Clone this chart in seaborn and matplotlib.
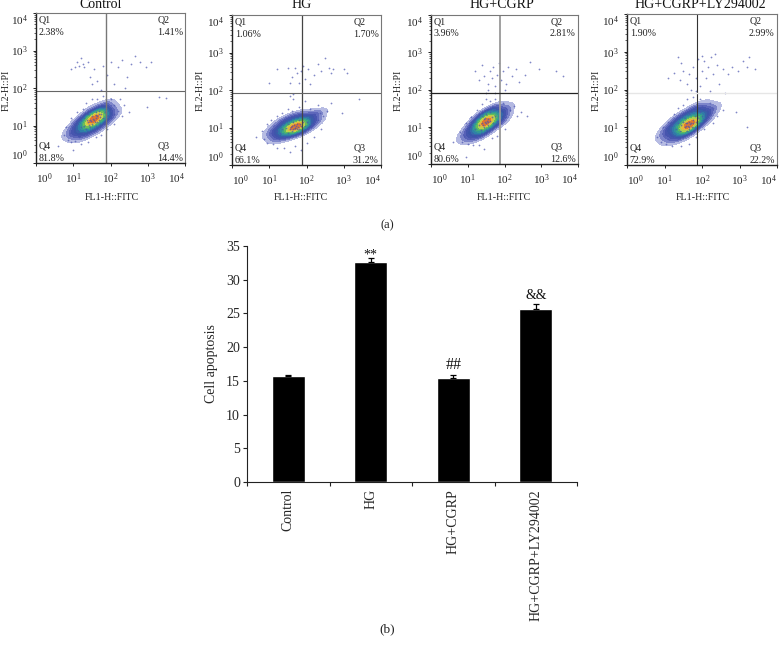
import matplotlib
matplotlib.use("Agg")
import matplotlib.pyplot as plt
import numpy as np
import pandas as pd
import seaborn as sns
from matplotlib.colors import LinearSegmentedColormap

W, H = 779, 648

# flow panels, values in decades (log10)
panel_names = ["Control", "HG", "HG+CGRP", "HG+CGRP+LY294002"]
q_labels = ["Q1", "Q2", "Q3", "Q4"]
control_pct = ["2.38%", "1.41%", "14.4%", "81.8%"]
hg_pct = ["1.06%", "1.70%", "31.2%", "66.1%"]
cgrp_pct = ["3.96%", "2.81%", "12.6%", "80.6%"]
ly_pct = ["1.90%", "2.99%", "22.2%", "72.9%"]
gates_fitc = [75, 75, 75, 75]
gates_pi = [83, 83, 83, 83]

control_core = [
    (0.9, 0.8), (1.0, 0.75), (1.0, 0.95), (1.1, 0.85), (1.1, 1.05), (1.15, 0.7), (1.2, 0.95), (1.2, 1.15),
    (1.25, 0.8), (1.3, 1.0), (1.3, 1.2), (1.35, 0.75), (1.35, 0.9), (1.4, 1.1), (1.4, 1.3), (1.45, 0.95),
    (1.45, 1.15), (1.5, 1.05), (1.5, 1.25), (1.5, 1.45), (1.55, 0.85), (1.55, 1.15), (1.6, 1.0), (1.6, 1.2),
    (1.6, 1.35), (1.65, 1.1), (1.65, 1.25), (1.7, 1.15), (1.7, 1.4), (1.7, 0.95), (1.75, 1.3), (1.8, 1.2),
    (1.8, 1.5), (1.85, 1.05), (1.85, 1.35), (1.9, 1.25), (1.9, 1.55), (2.0, 1.2), (2.0, 1.4), (2.1, 1.3),
    (1.48, 1.12), (1.52, 1.18), (1.58, 1.1), (1.62, 1.28), (1.42, 1.02), (1.38, 1.16), (1.68, 1.32), (1.72, 1.22),
]
control_sparse = [
    (0.75, 0.75), (0.85, 0.62), (0.8, 0.95), (0.95, 0.55), (0.95, 1.2), (1.05, 0.6), (1.1, 1.35), (1.2, 0.5),
    (1.25, 1.45), (1.35, 1.6), (1.4, 0.55), (1.5, 1.7), (1.6, 0.7), (1.65, 1.7), (1.75, 0.75), (1.8, 1.8),
    (1.9, 0.9), (2.0, 1.7), (2.1, 1.05), (2.1, 1.55), (2.2, 1.4), (2.3, 1.25), (2.35, 1.55), (2.5, 1.35),
    (2.25, 1.7), (0.6, 0.45), (1.0, 0.35), (2.97, 1.5), (3.29, 1.76), (3.5, 1.74), (1.05, 2.55), (1.1, 2.7),
    (1.15, 2.6), (1.2, 2.8), (1.25, 2.65), (1.3, 2.55), (1.4, 2.7), (1.45, 2.3), (1.5, 2.1), (1.55, 2.5),
    (1.65, 2.2), (1.75, 1.95), (1.8, 2.6), (1.9, 2.35), (2.0, 2.7), (2.1, 2.1), (2.2, 2.55), (2.3, 2.75),
    (2.45, 2.3), (2.55, 2.65), (2.65, 2.85), (2.8, 2.7), (2.95, 2.55), (3.1, 2.7), (0.95, 2.5), (2.4, 2.0),
]
hg_core = [
    (1.05, 0.85), (1.15, 0.75), (1.15, 1.0), (1.2, 0.9), (1.25, 0.7), (1.3, 0.85), (1.3, 1.1), (1.35, 0.95),
    (1.4, 0.75), (1.4, 1.2), (1.45, 1.0), (1.5, 0.85), (1.5, 1.1), (1.55, 0.95), (1.55, 1.25), (1.6, 0.8),
    (1.6, 1.05), (1.65, 0.95), (1.65, 1.15), (1.7, 1.0), (1.7, 1.3), (1.75, 0.85), (1.75, 1.1), (1.8, 0.95),
    (1.8, 1.2), (1.85, 1.05), (1.85, 1.35), (1.9, 0.9), (1.9, 1.15), (1.95, 1.05), (1.95, 1.3), (2.0, 1.15),
    (2.05, 1.0), (2.1, 1.25), (2.15, 1.1), (2.2, 1.35), (2.3, 1.2), (2.35, 1.4), (1.72, 1.05), (1.68, 0.98),
    (1.78, 1.02), (1.62, 0.92), (1.82, 1.1), (1.58, 1.02), (1.74, 0.95), (1.66, 1.08),
]
hg_sparse = [
    (0.8, 0.9), (0.85, 0.7), (0.95, 0.6), (0.95, 1.1), (1.05, 1.2), (1.1, 0.55), (1.2, 0.45), (1.2, 1.3),
    (1.35, 1.4), (1.4, 0.45), (1.5, 1.5), (1.55, 0.35), (1.6, 1.45), (1.65, 1.75), (1.7, 0.5), (1.8, 1.55),
    (1.85, 0.4), (1.95, 1.7), (2.0, 0.6), (2.1, 1.5), (2.2, 0.75), (2.3, 1.6), (2.45, 1.3), (2.55, 1.45),
    (2.66, 1.65), (2.4, 0.95), (0.65, 0.75), (1.0, 2.2), (1.2, 2.55), (1.5, 2.6), (1.55, 2.2), (1.6, 2.35),
    (1.7, 2.6), (1.75, 2.45), (1.8, 2.2), (1.85, 2.5), (1.9, 2.65), (1.95, 2.3), (2.05, 2.55), (2.1, 2.15),
    (2.2, 2.4), (2.3, 2.7), (2.4, 2.5), (2.5, 2.85), (2.6, 2.6), (2.65, 2.45), (2.7, 2.55), (3.0, 2.55),
    (3.1, 2.45), (3.4, 1.75), (2.95, 1.4), (1.55, 1.85), (1.65, 1.9),
]
cgrp_core = [
    (0.9, 0.75), (1.0, 0.9), (1.05, 0.7), (1.1, 1.0), (1.15, 0.8), (1.2, 1.15), (1.2, 0.95), (1.25, 0.75),
    (1.3, 1.05), (1.3, 1.25), (1.35, 0.9), (1.4, 1.1), (1.4, 1.3), (1.4, 0.8), (1.45, 1.0), (1.45, 1.2),
    (1.5, 1.1), (1.5, 1.35), (1.5, 0.9), (1.55, 1.2), (1.55, 1.05), (1.6, 1.15), (1.6, 1.4), (1.6, 0.95),
    (1.65, 1.25), (1.7, 1.1), (1.7, 1.45), (1.75, 1.3), (1.8, 1.15), (1.8, 1.5), (1.85, 1.3), (1.9, 1.1),
    (1.95, 1.35), (2.0, 1.25), (2.05, 1.5), (1.46, 1.12), (1.52, 1.16), (1.42, 1.06), (1.56, 1.14), (1.48, 1.24),
]
cgrp_sparse = [
    (0.8, 0.85), (0.85, 0.6), (0.95, 1.1), (1.0, 0.55), (1.1, 1.25), (1.15, 0.5), (1.25, 1.45), (1.3, 0.5),
    (1.4, 1.6), (1.45, 0.4), (1.5, 1.75), (1.6, 1.7), (1.65, 0.7), (1.75, 1.75), (1.8, 0.75), (1.95, 1.65),
    (2.0, 0.95), (2.15, 1.45), (2.25, 1.55), (2.35, 1.3), (2.45, 1.4), (2.6, 1.3), (0.6, 0.6), (1.5, 1.9),
    (0.95, 0.2), (1.2, 2.5), (1.3, 2.25), (1.4, 2.65), (1.45, 2.35), (1.55, 2.15), (1.6, 2.5), (1.65, 2.3),
    (1.7, 2.6), (1.75, 2.1), (1.8, 2.4), (1.85, 2.7), (1.9, 2.25), (1.95, 2.5), (2.05, 2.15), (2.1, 2.6),
    (2.2, 2.35), (2.3, 2.55), (2.4, 2.2), (2.55, 2.4), (2.7, 2.75), (2.95, 2.55), (3.4, 2.5), (3.6, 2.35),
    (1.75, 1.9), (1.55, 2.0), (2.0, 2.0),
]
ly_core = [
    (1.0, 0.8), (1.05, 0.95), (1.1, 0.7), (1.15, 0.9), (1.2, 1.05), (1.25, 0.75), (1.3, 0.95), (1.3, 1.2),
    (1.35, 0.7), (1.35, 1.1), (1.4, 0.9), (1.45, 1.05), (1.45, 1.3), (1.5, 0.8), (1.5, 1.15), (1.55, 1.0),
    (1.55, 1.25), (1.6, 0.9), (1.6, 1.1), (1.65, 1.0), (1.65, 1.35), (1.7, 1.1), (1.7, 0.85), (1.75, 1.2),
    (1.75, 1.45), (1.8, 1.0), (1.8, 1.3), (1.85, 1.15), (1.85, 1.5), (1.9, 1.25), (1.95, 1.1), (1.95, 1.4),
    (2.0, 1.3), (2.0, 1.55), (2.1, 1.2), (2.1, 1.45), (2.2, 1.35), (2.3, 1.5), (1.62, 1.04), (1.68, 1.08),
    (1.58, 1.02), (1.72, 1.0), (1.66, 1.14), (1.56, 1.1), (1.76, 1.12), (1.64, 0.96),
]
ly_sparse = [
    (0.8, 0.75), (0.9, 0.6), (0.95, 1.0), (1.05, 0.55), (1.1, 1.15), (1.2, 0.5), (1.25, 1.35), (1.35, 1.5),
    (1.45, 0.5), (1.5, 1.6), (1.6, 1.75), (1.65, 0.55), (1.75, 1.8), (1.85, 0.75), (1.95, 1.75), (2.05, 0.95),
    (2.2, 1.65), (2.3, 1.1), (2.4, 1.3), (2.55, 1.45), (2.9, 1.4), (3.2, 1.0), (1.35, 2.85), (1.45, 2.7),
    (1.1, 2.3), (1.25, 2.45), (1.4, 2.25), (1.5, 2.5), (1.6, 2.15), (1.65, 2.4), (1.7, 2.0), (1.75, 2.6),
    (1.85, 2.3), (1.9, 2.8), (1.95, 2.1), (2.0, 2.5), (2.05, 2.75), (2.1, 2.3), (2.15, 2.6), (2.2, 1.95),
    (2.25, 2.85), (2.3, 2.4), (2.4, 2.65), (2.45, 2.15), (2.55, 2.55), (2.6, 1.9), (2.7, 2.4), (2.8, 2.6),
    (2.95, 2.5), (3.1, 2.75), (3.25, 2.85), (3.4, 2.55), (3.2, 2.6), (2.0, 2.9), (1.85, 1.95), (2.35, 2.95),
]

# bar chart
groups = ["Control", "HG", "HG+CGRP", "HG+CGRP+LY294002"]
apoptosis = [15.7, 32.6, 15.45, 25.7]
apoptosis_err = [0.1, 0.6, 0.45, 0.7]
marks = ["", "**", "##", "&&"]

sns.set_style("ticks")
plt.rcParams["font.family"] = ["Liberation Serif", "DejaVu Serif"]
plt.rcParams["mathtext.fontset"] = "custom"
plt.rcParams["mathtext.rm"] = "Liberation Serif"
plt.rcParams["mathtext.default"] = "rm"

fig = plt.figure(figsize=(W / 100, H / 100), dpi=100)

flow_cmap = LinearSegmentedColormap.from_list(
    "flow",
    ["#d5d8f0", "#8088cc", "#4a55b0", "#3a55a8", "#2f7fa8", "#35a58a", "#66bb5a", "#d6d84a", "#f0a030", "#d9552a"],
)


def px_axes(left, top, right, bottom):
    return fig.add_axes([left / W, 1 - bottom / H, (right - left) / W, (bottom - top) / H])


def log_frame(points):
    arr = np.array(points)
    return pd.DataFrame({"fitc": 10 ** arr[:, 0], "pi": 10 ** arr[:, 1]})


flow_panels = [
    dict(box=(36, 13, 185, 163), xlab=112, ylab=6, title=101, core=control_core, sparse=control_sparse,
         pct=control_pct, vcol="#777777", hcol="#666666", vw=1.0, hw=0.8),
    dict(box=(232, 15, 381, 165), xlab=301, ylab=200, title=302, core=hg_core, sparse=hg_sparse,
         pct=hg_pct, vcol="#444444", hcol="#666666", vw=0.9, hw=0.8),
    dict(box=(431, 15, 578, 164), xlab=504, ylab=398, title=502, core=cgrp_core, sparse=cgrp_sparse,
         pct=cgrp_pct, vcol="#999999", hcol="#222222", vw=1.3, hw=0.9),
    dict(box=(627, 14, 777, 165), xlab=703, ylab=596, title=700, core=ly_core, sparse=ly_sparse,
         pct=ly_pct, vcol="#333333", hcol="#e6e6e6", vw=0.8, hw=1.0),
]

for i, p in enumerate(flow_panels):
    ax = px_axes(*p["box"])
    core = log_frame(p["core"])
    every = pd.concat([core, log_frame(p["sparse"])])
    sns.kdeplot(data=core, x="fitc", y="pi", fill=True, levels=14, thresh=0.05, bw_adjust=1.25,
                cmap=flow_cmap, log_scale=True, ax=ax)
    sns.scatterplot(data=every, x="fitc", y="pi", s=1.6, color="#4a55b0", alpha=0.7, linewidth=0, ax=ax)
    ax.axvline(gates_fitc[i], color=p["vcol"], lw=p["vw"])
    ax.axhline(gates_pi[i], color=p["hcol"], lw=p["hw"])
    ax.set_xlim(1, 10**4)
    ax.set_ylim(1, 10**4)
    ax.set_xlabel("")
    ax.set_ylabel("")
    for side in ["top", "right"]:
        ax.spines[side].set_color("#777777")
        ax.spines[side].set_linewidth(0.8)
        ax.spines[side].set_visible(True)
    for side in ["left", "bottom"]:
        ax.spines[side].set_color("#222222")
        ax.spines[side].set_linewidth(1.0)
    ax.set_xticks([1, 10, 100, 1000, 10000])
    ax.set_yticks([1, 10, 100, 1000, 10000])
    ax.set_xticklabels(["$10^{0}$", "$10^{1}$", "$10^{2}$", "$10^{3}$", "$10^{4}$"])
    ax.set_yticklabels(["$10^{0}$", "$10^{1}$", "$10^{2}$", "$10^{3}$", "$10^{4}$"])
    ax.tick_params(which="major", length=2.5, width=0.7, labelsize=8, pad=3.5, color="#222222")
    ax.tick_params(which="minor", length=1.3, width=0.5, color="#222222")
    xl = ax.get_xticklabels()
    xl[0].set_ha("left")
    xl[-1].set_ha("right")
    yl = ax.get_yticklabels()
    yl[0].set_va("bottom")
    yl[-1].set_va("top")

    tkw = dict(transform=ax.transAxes, fontsize=7.2, color="#222222", va="center")
    ax.text(0.018, 0.953, "Q1", **tkw)
    ax.text(0.018, 0.873, p["pct"][0], **tkw)
    ax.text(0.815, 0.953, "Q2", **tkw)
    ax.text(0.985, 0.873, p["pct"][1], ha="right", **tkw)
    ax.text(0.815, 0.113, "Q3", **tkw)
    ax.text(0.985, 0.033, p["pct"][2], ha="right", **tkw)
    ax.text(0.018, 0.113, "Q4", **tkw)
    ax.text(0.018, 0.033, p["pct"][3], **tkw)

    fig.text(p["title"] / W, 1 - 5 / H, panel_names[i], fontsize=10, ha="center", va="center", color="#111111")
    fig.text(p["xlab"] / W, 1 - 197 / H, "FL1-H::FITC", fontsize=7.2, ha="center", va="center", color="#222222")
    fig.text(p["ylab"] / W, 1 - 90 / H, "FL2-H::PI", fontsize=7.2, rotation=90, ha="center", va="center",
             color="#222222")

fig.text(387 / W, 1 - 225 / H, "(a)", fontsize=9, ha="center", va="center", color="#222222")
fig.text(387 / W, 1 - 629 / H, "(b)", fontsize=9.5, ha="center", va="center", color="#222222")

bar_ax = px_axes(247, 246, 577, 482)
bar_df = pd.DataFrame({"group": groups, "apoptosis": apoptosis})
sns.barplot(data=bar_df, x="group", y="apoptosis", order=groups, color="black", saturation=1, width=0.4,
            errorbar=None, ax=bar_ax)
bar_ax.errorbar(range(len(groups)), apoptosis, yerr=[[0] * 4, apoptosis_err], fmt="none", ecolor="black",
                elinewidth=0.9, capsize=2.2, capthick=0.9)
for i, m in enumerate(marks):
    if m:
        top = apoptosis[i] + apoptosis_err[i]
        size = 11.5 if m == "##" else 10
        lift = -0.5 if m == "**" else 0.25
        bar_ax.text(i, top + lift, m, ha="center", va="bottom", fontsize=size, color="#111111")
bar_ax.set_xlim(-0.5, 3.5)
bar_ax.set_ylim(0, 35)
bar_ax.set_yticks(range(0, 36, 5))
bar_ax.set_xticks(np.arange(-0.5, 4, 1), minor=True)
bar_ax.tick_params(axis="x", which="major", length=0, pad=5, labelsize=10, labelrotation=90)
bar_ax.tick_params(axis="x", which="minor", length=3, width=0.8, color="#222222")
bar_ax.tick_params(axis="y", length=3, width=0.8, labelsize=10, pad=2, color="#222222")
bar_ax.set_xlabel("")
bar_ax.set_ylabel("Cell apoptosis", fontsize=10, labelpad=6)
sns.despine(ax=bar_ax)
for side in ["left", "bottom"]:
    bar_ax.spines[side].set_linewidth(0.8)
    bar_ax.spines[side].set_color("#222222")

fig.savefig("out.png", dpi=100)
